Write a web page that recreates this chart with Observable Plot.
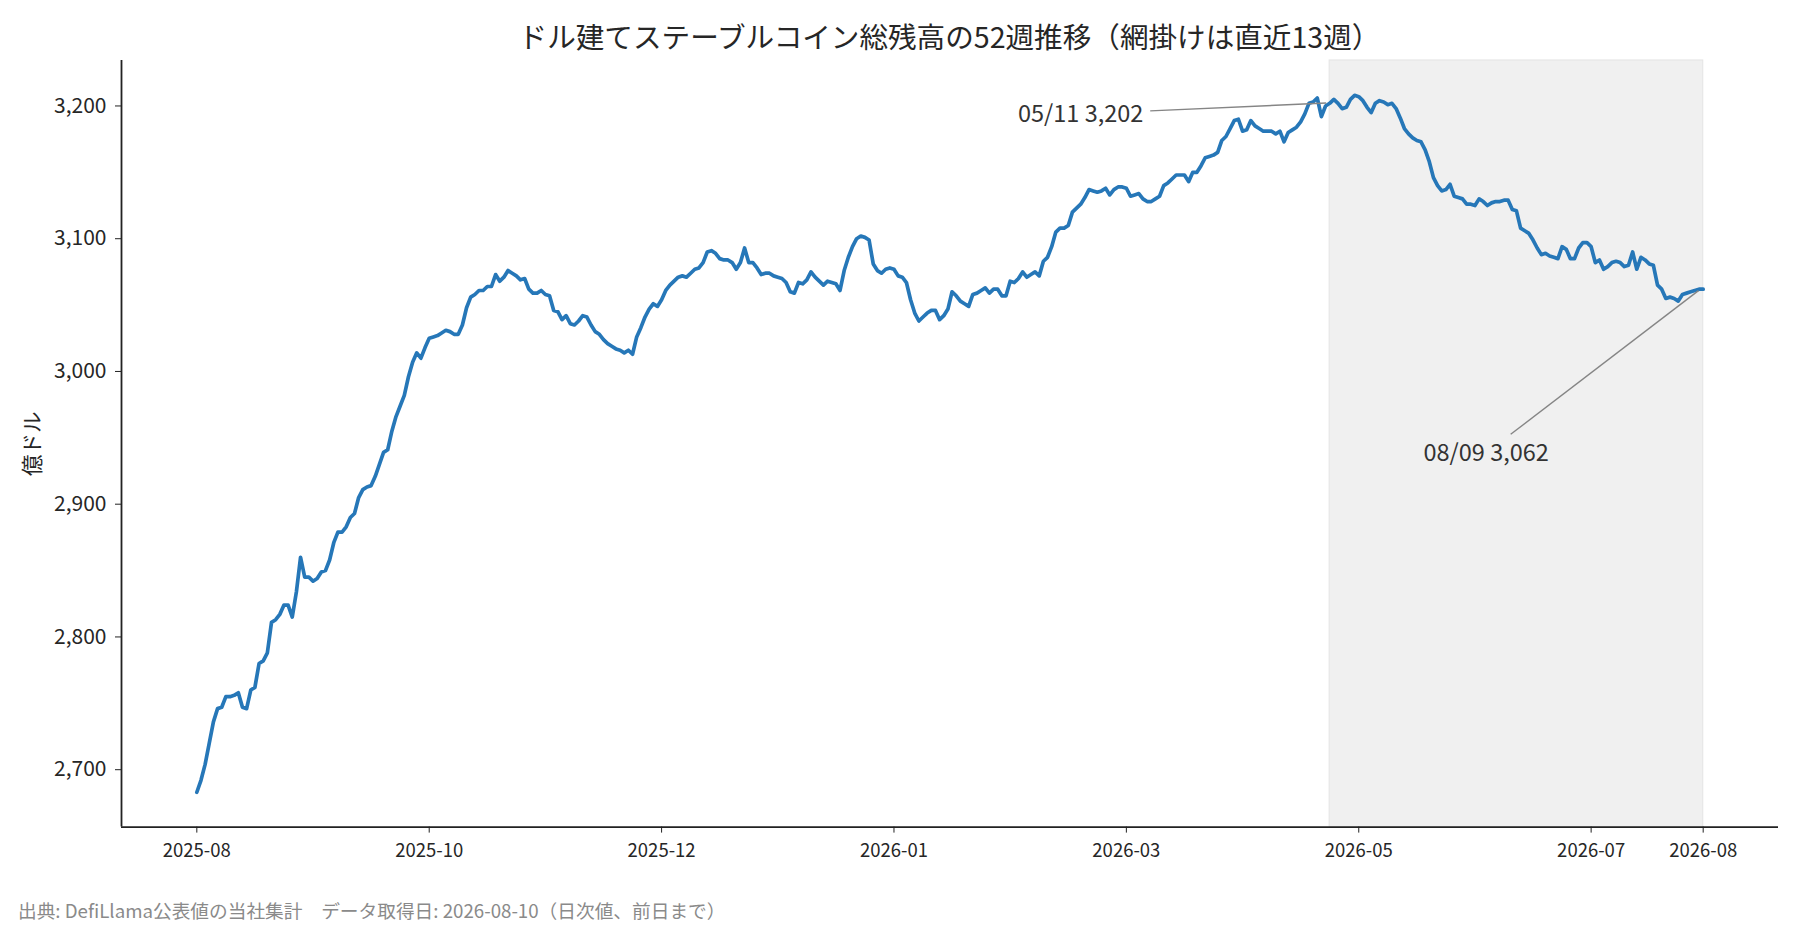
<!DOCTYPE html>
<html>
<head>
<meta charset="utf-8">
<script src="https://cdn.jsdelivr.net/npm/d3@7"></script>
<script src="https://cdn.jsdelivr.net/npm/@observablehq/plot@0.6"></script>
<style>
  html, body { margin: 0; padding: 0; background: #ffffff; }
  #wrap { position: relative; width: 1800px; height: 930px; overflow: hidden;
          font-family: "Noto Sans CJK JP", "Noto Sans", sans-serif; }
  #title { position: absolute; left: 121px; width: 1657px; top: 22px; text-align: center;
           font-size: 28.6px; line-height: 1; color: #262626; white-space: nowrap; }
  #chart { position: absolute; left: 0; top: 50px; }
  #footer { position: absolute; left: 18px; top: 901px; font-size: 18.7px; line-height: 1;
            color: #8a8a8a; white-space: pre; }
</style>
</head>
<body>
<div id="wrap">
  <div id="title"></div>
  <div id="chart"></div>
  <div id="footer"></div>
</div>
<script>
// ---------------- data ----------------
const titleText = "ドル建てステーブルコイン総残高の52週推移（網掛けは直近13週）";
const footerText = "出典: DefiLlama公表値の当社集計　データ取得日: 2026-08-10（日次値、前日まで）";
const yLabel = "億ドル";

// daily series, first day 2025-08-11, last day 2026-08-09 (億ドル)
const startDate = "2025-08-11";
const values = [
  2683,2692,2704,2720,2736,2746,2747,2755,2755,2756,
  2758,2747,2746,2760,2762,2780,2782,2788,2811,2813,
  2817,2824,2824,2815,2834,2860,2845,2845,2842,2844,
  2849,2850,2858,2871,2879,2879,2883,2890,2893,2905,
  2911,2913,2914,2921,2930,2939,2941,2955,2966,2974,
  2982,2996,3007,3014,3010,3018,3025,3026,3027,3029,
  3031,3030,3028,3028,3035,3048,3056,3058,3061,3061,
  3064,3064,3073,3068,3071,3076,3074,3072,3069,3070,
  3062,3059,3059,3061,3058,3057,3046,3045,3039,3042,
  3036,3035,3038,3042,3041,3035,3030,3028,3024,3021,
  3019,3017,3016,3014,3016,3013,3026,3033,3041,3047,
  3051,3049,3054,3061,3065,3068,3071,3072,3071,3074,
  3077,3078,3082,3090,3091,3089,3085,3084,3084,3082,
  3077,3082,3093,3082,3082,3078,3073,3074,3074,3072,
  3071,3070,3067,3060,3059,3067,3066,3069,3075,3071,
  3068,3065,3068,3067,3066,3061,3076,3086,3094,3100,
  3102,3101,3099,3081,3076,3074,3077,3078,3077,3072,
  3071,3067,3054,3044,3038,3041,3044,3046,3046,3039,
  3042,3047,3060,3057,3053,3051,3049,3058,3059,3061,
  3063,3059,3062,3062,3057,3057,3068,3067,3070,3075,
  3071,3073,3075,3072,3083,3086,3094,3105,3108,3108,
  3110,3120,3123,3126,3131,3137,3136,3135,3136,3138,
  3133,3137,3139,3139,3138,3132,3133,3134,3130,3128,
  3128,3130,3132,3140,3142,3145,3148,3148,3148,3143,
  3150,3150,3155,3161,3162,3163,3165,3174,3177,3183,
  3189,3190,3181,3182,3189,3185,3183,3181,3181,3181,
  3179,3181,3173,3180,3182,3184,3188,3194,3202,3203,
  3206,3192,3200,3202,3205,3202,3198,3199,3205,3208,
  3207,3204,3199,3195,3202,3204,3203,3201,3202,3198,
  3191,3183,3179,3176,3174,3173,3167,3158,3146,3140,
  3136,3137,3141,3132,3131,3130,3126,3126,3125,3130,
  3128,3125,3127,3128,3128,3129,3129,3122,3121,3108,
  3106,3104,3099,3093,3088,3089,3087,3086,3085,3094,
  3092,3085,3085,3093,3097,3097,3094,3082,3084,3077,
  3079,3082,3083,3082,3079,3080,3090,3077,3086,3084,
  3081,3080,3065,3062,3055,3056,3055,3053,3058,3059,
  3060,3061,3062,3062
];

// x ticks (dates) and their labels
const tickDates  = ["2025-08-11","2025-10-06","2025-12-01","2026-01-26","2026-03-23","2026-05-18","2026-07-13","2026-08-09"];
const tickLabels = ["2025-08","2025-10","2025-12","2026-01","2026-03","2026-05","2026-07","2026-08"];
const yTicks = [2700, 2800, 2900, 3000, 3100, 3200];

// annotations
const annDates  = ["2026-05-11", "2026-08-09"];
const annValues = [3202, 3062];
const annLabels = ["05/11 3,202", "08/09 3,062"];

const shadeWeeks = 13;

// ---------------- build ----------------
const utc = s => new Date(s + "T00:00:00Z");
const start = utc(startDate);
const series = values.map((v, i) => ({date: d3.utcDay.offset(start, i), value: v}));
const first = series[0].date, last = series[series.length - 1].date;
const span = last - first;
const xDomain = [new Date(+first - 0.05 * span), new Date(+last + 0.05 * span)];
const [vmin, vmax] = d3.extent(values);
const vpad = 0.05 * (vmax - vmin);
const yDomain = [vmin - vpad, vmax + vpad];

const shade = [{start: series[series.length - shadeWeeks * 7].date, end: last}];
const ann = annDates.map((d, i) => ({date: utc(d), value: annValues[i], label: annLabels[i]}));
const tickDateObjs = tickDates.map(utc);
const tickLabelOf = d => tickLabels[tickDateObjs.findIndex(t => +t === +d)];

// pixel offsets (style) of annotation texts and leader lines relative to their points
const annStyle = [
  {dx: -249, dy: 11.5, sx: -179, sy: 8.1, ex: -3, ey: 0.2},
  {dx: -217, dy: 164,  sx: -192, sy: 145.6, ex: -4.2, ey: 2}
];

function leaders(index, scales) {
  const g = d3.create("svg:g");
  ann.forEach((a, i) => {
    const px = scales.x(a.date), py = scales.y(a.value), s = annStyle[i];
    g.append("line")
      .attr("x1", px + s.sx).attr("y1", py + s.sy)
      .attr("x2", px + s.ex).attr("y2", py + s.ey)
      .attr("stroke", "#858585").attr("stroke-width", 1.4);
  });
  return g.node();
}

const font = "Noto Sans CJK JP";

const chart = Plot.plot({
  width: 1800,
  height: 830,
  marginLeft: 121,
  marginRight: 22,
  marginTop: 10,
  marginBottom: 53.4,
  style: {fontFamily: font, background: "transparent", color: "#262626"},
  x: {type: "utc", domain: xDomain},
  y: {domain: yDomain},
  marks: [
    Plot.rect(shade, {x1: "start", x2: "end", fill: "#f0f0f0", stroke: "#e6e6e6", strokeWidth: 1.2}),
    Plot.lineY(series, {x: "date", y: "value", stroke: "#2677b8", strokeWidth: 3.7,
                        strokeLinejoin: "round", strokeLinecap: "round"}),
    leaders,
    Plot.text(ann.slice(0, 1), {x: "date", y: "value", text: "label", dx: annStyle[0].dx, dy: annStyle[0].dy,
                                textAnchor: "middle", lineAnchor: "middle", fontSize: 23.5, fill: "#333333"}),
    Plot.text(ann.slice(1, 2), {x: "date", y: "value", text: "label", dx: annStyle[1].dx, dy: annStyle[1].dy,
                                textAnchor: "middle", lineAnchor: "middle", fontSize: 23.5, fill: "#333333"}),
    Plot.ruleX([xDomain[0]], {stroke: "#222", strokeWidth: 1.8}),
    Plot.ruleY([yDomain[0]], {stroke: "#222", strokeWidth: 1.8}),
    Plot.axisY({ticks: yTicks, tickFormat: d3.format(","), tickSize: 6, tickPadding: 9,
                fontSize: 21, label: null, stroke: "#222", color: "#262626"}),
    Plot.axisX({ticks: tickDateObjs, tickFormat: tickLabelOf, tickSize: 6, tickPadding: 11,
                fontSize: 18.5, label: null, stroke: "#222", color: "#262626"}),
    Plot.text([yLabel], {frameAnchor: "left", dx: -88, rotate: -90, textAnchor: "middle",
                         lineAnchor: "middle", fontSize: 21.5, fill: "#262626"})
  ]
});

document.getElementById("chart").appendChild(chart);
document.getElementById("title").textContent = titleText;
document.getElementById("footer").textContent = footerText;
</script>
</body>
</html>
